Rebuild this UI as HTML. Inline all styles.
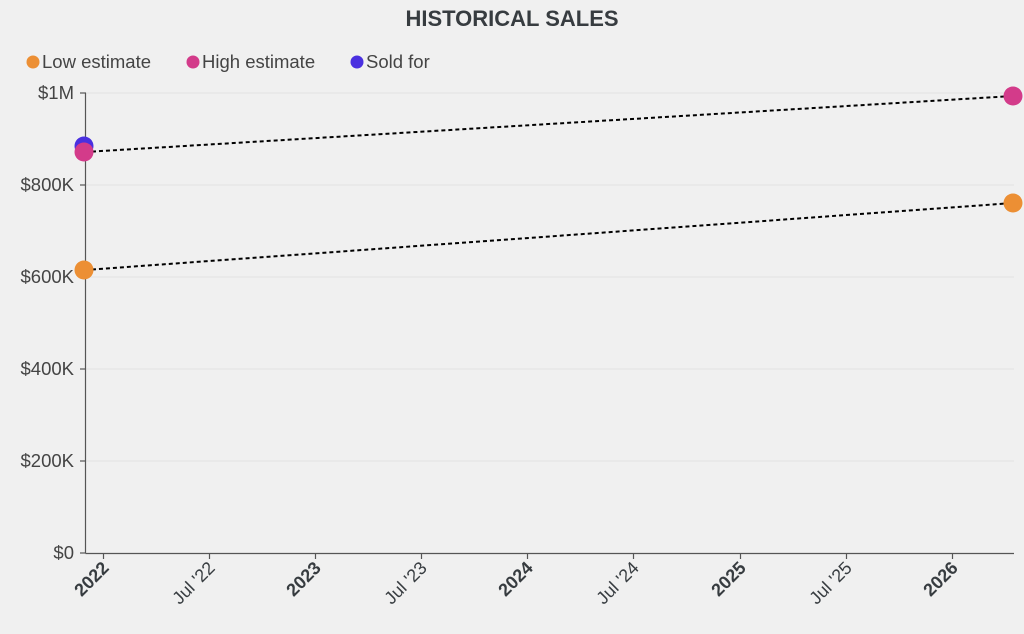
<!DOCTYPE html>
<html><head><style>
body{margin:0;background:#f0f0f0;}
svg{display:block;font-family:"Liberation Sans",sans-serif;}
</style></head><body>
<svg width="1024" height="634" viewBox="0 0 1024 634">
<rect width="1024" height="634" fill="#f0f0f0"/>
<text x="512" y="26" text-anchor="middle" font-size="22" font-weight="bold" fill="#373c40">HISTORICAL SALES</text>
<g font-size="18.5" fill="#444">
<circle cx="33" cy="62" r="6.5" fill="#ec8f34"/><text x="42" y="68">Low estimate</text>
<circle cx="193" cy="62" r="6.5" fill="#d33b8a"/><text x="202" y="68">High estimate</text>
<circle cx="357" cy="62" r="6.5" fill="#4a30e0"/><text x="366" y="68">Sold for</text>
</g>
<g stroke="#e2e2e2" stroke-width="1">
<line x1="86" x2="1014" y1="93" y2="93"/><line x1="86" x2="1014" y1="185" y2="185"/>
<line x1="86" x2="1014" y1="277" y2="277"/><line x1="86" x2="1014" y1="369" y2="369"/>
<line x1="86" x2="1014" y1="461" y2="461"/>
</g>
<g stroke="#555" stroke-width="1.2">
<line x1="85.5" x2="85.5" y1="93" y2="553"/><line x1="85.5" x2="1014" y1="553.5" y2="553.5"/>
<line x1="80" x2="86" y1="93" y2="93"/><line x1="80" x2="86" y1="185" y2="185"/><line x1="80" x2="86" y1="277" y2="277"/><line x1="80" x2="86" y1="369" y2="369"/><line x1="80" x2="86" y1="461" y2="461"/><line x1="80" x2="86" y1="553" y2="553"/>
<line x1="103.5" x2="103.5" y1="553" y2="559"/><line x1="209.5" x2="209.5" y1="553" y2="559"/><line x1="315.5" x2="315.5" y1="553" y2="559"/><line x1="421.5" x2="421.5" y1="553" y2="559"/><line x1="527.5" x2="527.5" y1="553" y2="559"/><line x1="633.5" x2="633.5" y1="553" y2="559"/><line x1="740.5" x2="740.5" y1="553" y2="559"/><line x1="846.5" x2="846.5" y1="553" y2="559"/><line x1="952.5" x2="952.5" y1="553" y2="559"/>
</g>
<g font-size="18.5" fill="#444" text-anchor="end">
<text x="74" y="99">$1M</text><text x="74" y="191">$800K</text><text x="74" y="283">$600K</text><text x="74" y="375">$400K</text><text x="74" y="467">$200K</text><text x="74" y="559">$0</text>
</g>
<g font-size="18" fill="#373c40" text-anchor="end">
<text transform="translate(110,569) rotate(-45)" font-weight="bold">2022</text>
<text transform="translate(216,569) rotate(-45)">Jul '22</text>
<text transform="translate(322,569) rotate(-45)" font-weight="bold">2023</text>
<text transform="translate(428,569) rotate(-45)">Jul '23</text>
<text transform="translate(534,569) rotate(-45)" font-weight="bold">2024</text>
<text transform="translate(640,569) rotate(-45)">Jul '24</text>
<text transform="translate(747,569) rotate(-45)" font-weight="bold">2025</text>
<text transform="translate(853,569) rotate(-45)">Jul '25</text>
<text transform="translate(959,569) rotate(-45)" font-weight="bold">2026</text>
</g>
<g stroke="#000" stroke-width="2" stroke-dasharray="4,3">
<line x1="85" y1="152" x2="1013" y2="96"/>
<line x1="85" y1="270" x2="1013" y2="203"/>
</g>
<circle cx="84" cy="146" r="9.5" fill="#4a30e0"/>
<circle cx="84" cy="152" r="9.5" fill="#d33b8a"/>
<circle cx="84" cy="270" r="9.5" fill="#ec8f34"/>
<circle cx="1013" cy="96" r="9.5" fill="#d33b8a"/>
<circle cx="1013" cy="203" r="9.5" fill="#ec8f34"/>
</svg>
</body></html>
